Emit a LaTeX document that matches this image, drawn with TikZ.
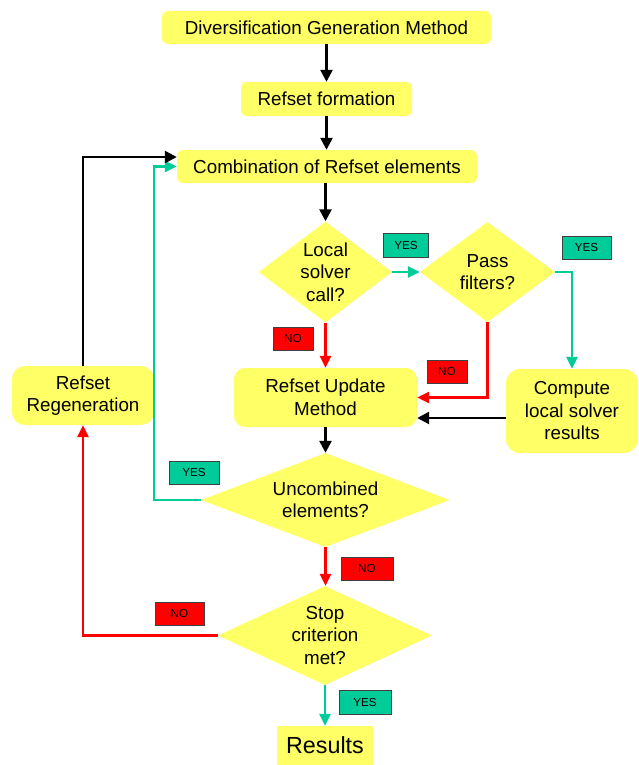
\documentclass[tikz,border=0pt]{standalone}
\usepackage{fontspec}
\setmainfont{Liberation Sans}
\usetikzlibrary{arrows.meta,shapes.geometric}
\definecolor{boxyellow}{HTML}{FFFF66}
\definecolor{flowgreen}{HTML}{00CC99}
\definecolor{flowred}{HTML}{FF0000}
\definecolor{lblborder}{HTML}{404040}
\tikzset{
  box/.style={fill=boxyellow, draw=none, rounded corners=6pt, inner sep=0pt, align=center,
    font=\fontsize{18.8pt}{22.5pt}\selectfont},
  bigbox/.style={box, rounded corners=11pt},
  dia/.style={diamond, fill=boxyellow, draw=none, inner sep=0pt},
  diatext/.style={align=center, inner sep=0pt, font=\fontsize{18.8pt}{22.5pt}\selectfont},
  lbl/.style={draw=lblborder, line width=1pt, inner sep=0pt, font=\fontsize{11.7pt}{13pt}\selectfont},
  yeslbl/.style={lbl, fill=flowgreen},
  nolbl/.style={lbl, fill=flowred},
  blk/.style={draw=black, line width=2.5pt, -{Triangle[length=12pt,width=12pt]}},
  grn/.style={draw=flowgreen, line width=2.5pt, -{Triangle[length=12pt,width=11pt]}},
  rd/.style={draw=flowred, line width=2.5pt, -{Triangle[length=12pt,width=11pt]}},
}
\begin{document}
\begin{tikzpicture}[x=1pt,y=-1pt]
\useasboundingbox (0,0) rectangle (639,765);

% boxes
\node[box, minimum width=329pt, minimum height=33pt] (b1) at (326.5,27.5) {Diversification Generation Method};
\node[box, minimum width=171pt, minimum height=34pt] (b2) at (326.5,99) {Refset formation};
\node[box, minimum width=300pt, minimum height=33pt] (b3) at (327,166.5) {Combination of Refset elements};
\node[bigbox, minimum width=183pt, minimum height=59pt] (upd) at (325.5,397.5) {Refset Update\\Method};
\node[bigbox, rounded corners=14pt, minimum width=132pt, minimum height=84pt] (comp) at (572,411) {Compute\\local solver\\results};
\node[bigbox, rounded corners=13pt, minimum width=142pt, minimum height=59pt] (regen) at (83,395.5) {Refset\\Regeneration};
\node[fill=boxyellow, inner sep=0pt, minimum width=96pt, minimum height=39pt,
      font=\fontsize{23.3pt}{26pt}\selectfont] (res) at (325,745.5) {Results};

% diamonds
\node[dia, minimum width=133pt, minimum height=101pt] (loc) at (325.5,272) {};
\node[diatext] (loct) at (loc) {Local\\solver\\call?};
\node[dia, minimum width=135pt, minimum height=100pt] (pass) at (487.5,272) {};
\node[diatext] (passt) at (pass) {Pass\\filters?};
\node[dia, minimum width=249pt, minimum height=94pt] (unc) at (325.5,500) {};
\node[diatext] (unct) at (unc) {Uncombined\\elements?};
\node[dia, minimum width=214pt, minimum height=99pt] (stop) at (325,635.5) {};
\node[diatext] (stopt) at (stop) {Stop\\criterion\\met?};

% labels
\node[yeslbl, minimum width=45pt, minimum height=24pt] (l1) at (406,245) {YES};
\node[yeslbl, minimum width=49pt, minimum height=23pt] (l2) at (586.5,247.5) {YES};
\node[nolbl, minimum width=40pt, minimum height=23pt] (l3) at (293,338.5) {NO};
\node[nolbl, minimum width=40pt, minimum height=23pt] (l4) at (447,371.5) {NO};
\node[yeslbl, minimum width=50pt, minimum height=23pt] (l5) at (194,472.5) {YES};
\node[nolbl, minimum width=52pt, minimum height=23pt] (l6) at (367,568.5) {NO};
\node[nolbl, minimum width=49pt, minimum height=23pt] (l7) at (179.5,613.5) {NO};
\node[yeslbl, minimum width=52pt, minimum height=24pt] (l8) at (365,702) {YES};

% connectors
\draw[blk] (b1.south) -- (b2.north);
\draw[blk] (b2.south) -- (b3.north -| b2.south);
\draw[blk] (loc.north |- b3.south) -- (loc.north);
\draw[grn] (loc.east) -- (pass.west);
\draw[grn] (pass.east) -| (comp.north);
\draw[rd] (loc.south) -- (upd.north -| loc.south);
\draw[rd] (pass.south) |- (upd.east);
\draw[blk] ([yshift=-7pt]comp.west) -- ([yshift=-7pt]comp.west -| upd.east);
\draw[blk] (upd.south -| unc.north) -- (unc.north);
\draw[grn] (unc.west) -| ([xshift=-23pt]b3.west) -- (b3.west);
\draw[rd] (unc.south) -- (stop.north -| unc.south);
\draw[rd] (stop.west) -| (regen.south);
\draw[blk] (regen.north) |- ([yshift=9.5pt]b3.west);
\draw[grn] (stop.south) -- (res.north -| stop.south);
\end{tikzpicture}
\end{document}
